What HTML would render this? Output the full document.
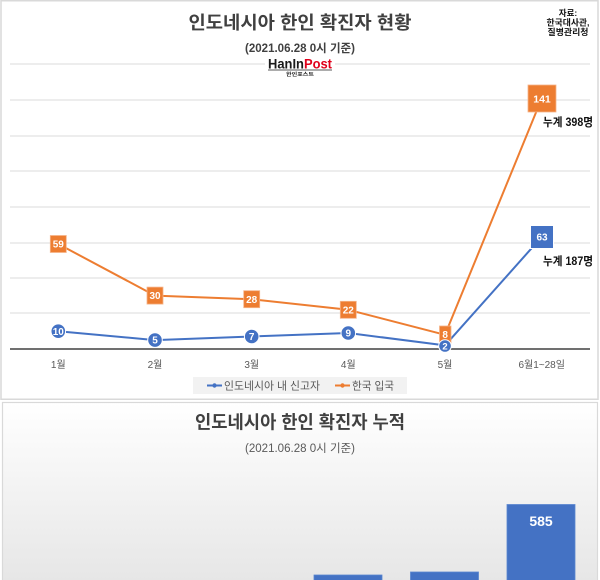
<!DOCTYPE html>
<html>
<head>
<meta charset="utf-8">
<style>
html,body{margin:0;padding:0;background:#fff;}
body{width:600px;height:580px;overflow:hidden;}
svg{display:block;}
text{font-family:"Liberation Sans","Noto Sans CJK KR",sans-serif;}
</style>
</head>
<body>
<svg width="600" height="580" viewBox="0 0 600 580" xmlns="http://www.w3.org/2000/svg">
  <defs>
    <linearGradient id="bg2" x1="0" y1="0" x2="0" y2="1">
      <stop offset="0" stop-color="#ffffff"/>
      <stop offset="1" stop-color="#e6e6e6"/>
    </linearGradient>
  </defs>
  <rect x="0" y="0" width="600" height="580" fill="#ffffff"/>

  <!-- Top frame -->
  <rect x="1" y="0.75" width="597" height="398.5" fill="#ffffff" stroke="#d9d9d9" stroke-width="1.5"/>

  <!-- gridlines -->
  <g stroke="#e2e2e2" stroke-width="1.2">
    <line x1="10" y1="64" x2="590" y2="64"/>
    <line x1="10" y1="100" x2="590" y2="100"/>
    <line x1="10" y1="136" x2="590" y2="136"/>
    <line x1="10" y1="171" x2="590" y2="171"/>
    <line x1="10" y1="207" x2="590" y2="207"/>
    <line x1="10" y1="243" x2="590" y2="243"/>
    <line x1="10" y1="278" x2="590" y2="278"/>
    <line x1="10" y1="313" x2="590" y2="313"/>
  </g>
  <line x1="10" y1="349" x2="590" y2="349" stroke="#404040" stroke-width="1.5"/>

  <!-- Title -->
  <text x="300" y="29" text-anchor="middle" font-size="18" font-weight="bold" fill="#404040" textLength="223" lengthAdjust="spacingAndGlyphs">인도네시아 한인 확진자 현황</text>
  <text x="300" y="52" text-anchor="middle" font-size="11.5" font-weight="bold" fill="#404040" textLength="110" lengthAdjust="spacingAndGlyphs">(2021.06.28 0시 기준)</text>

  <!-- Logo -->
  <rect x="265" y="56" width="70" height="21" fill="#ffffff"/>
  <text x="268" y="68.5" font-size="13.5" font-weight="bold" fill="#1a1a1a" textLength="64" lengthAdjust="spacingAndGlyphs">HanIn<tspan fill="#e0001b">Post</tspan></text>
  <line x1="268" y1="70" x2="332" y2="70" stroke="#222" stroke-width="0.8"/>
  <text x="300" y="76" text-anchor="middle" font-size="5" font-weight="bold" fill="#222" textLength="28" lengthAdjust="spacingAndGlyphs">한인포스트</text>

  <!-- Source -->
  <text x="568" y="16" text-anchor="middle" font-size="8.5" font-weight="bold" fill="#111">자료:</text>
  <text x="568" y="25.5" text-anchor="middle" font-size="8.5" font-weight="bold" fill="#111" textLength="43" lengthAdjust="spacingAndGlyphs">한국대사관,</text>
  <text x="568" y="35" text-anchor="middle" font-size="8.5" font-weight="bold" fill="#111" textLength="41" lengthAdjust="spacingAndGlyphs">질병관리청</text>

  <!-- Lines -->
  <polyline fill="none" stroke="#ED7D31" stroke-width="2" stroke-linejoin="round"
    points="58.3,244 155,295.6 251.7,299.2 348.3,309.8 445,334.8 541.7,98.5"/>
  <polyline fill="none" stroke="#4472C4" stroke-width="2" stroke-linejoin="round"
    points="58.3,331.2 155,340.1 251.7,336.5 348.3,333 445,345.4 541.7,236.9"/>

  <!-- Orange labels -->
  <g fill="#ED7D31" stroke="#f6b48a" stroke-width="0.8">
    <rect x="50.3" y="235.5" width="16" height="17"/>
    <rect x="147" y="287.1" width="16" height="17"/>
    <rect x="243.7" y="290.7" width="16" height="17"/>
    <rect x="340.3" y="301.3" width="16" height="17"/>
    <rect x="439.5" y="326" width="11.5" height="17"/>
    <rect x="528" y="85" width="28" height="27"/>
  </g>
  <g fill="#ffffff" font-size="10" font-weight="bold" text-anchor="middle">
    <text x="58.3" y="247.6">59</text>
    <text x="155" y="299.2">30</text>
    <text x="251.7" y="302.8">28</text>
    <text x="348.3" y="313.4">22</text>
    <text x="445.2" y="338.1">8</text>
    <text x="542" y="102.3" font-size="10.5">141</text>
  </g>

  <!-- Blue labels -->
  <g fill="#4472C4" stroke="#ffffff" stroke-width="1">
    <circle cx="58.3" cy="331.2" r="7.3"/>
    <circle cx="155" cy="340.1" r="7.3"/>
    <circle cx="251.7" cy="336.5" r="7.3"/>
    <circle cx="348.3" cy="333" r="7.3"/>
    <circle cx="445" cy="346" r="6.3"/>
    <rect x="530.5" y="225.5" width="23" height="23"/>
  </g>
  <g fill="#ffffff" font-size="10" font-weight="bold" text-anchor="middle">
    <text x="58.3" y="334.8">10</text>
    <text x="155" y="343.7">5</text>
    <text x="251.7" y="340.1">7</text>
    <text x="348.3" y="336.6">9</text>
    <text x="445" y="349.5" font-size="9.5">2</text>
    <text x="542" y="240.6">63</text>
  </g>

  <!-- Cumulative annotations -->
  <text x="543" y="126" font-size="11.5" font-weight="bold" fill="#111" textLength="50" lengthAdjust="spacingAndGlyphs">누계 398명</text>
  <text x="543" y="265" font-size="11.5" font-weight="bold" fill="#111" textLength="50" lengthAdjust="spacingAndGlyphs">누계 187명</text>

  <!-- Axis labels -->
  <g font-size="10" fill="#595959" text-anchor="middle">
    <text x="58.3" y="368">1월</text>
    <text x="155" y="368">2월</text>
    <text x="251.7" y="368">3월</text>
    <text x="348.3" y="368">4월</text>
    <text x="445" y="368">5월</text>
    <text x="541.7" y="368">6월1~28일</text>
  </g>

  <!-- Legend -->
  <rect x="193" y="377" width="214" height="17" fill="#f2f2f2"/>
  <line x1="207" y1="385.5" x2="222" y2="385.5" stroke="#4472C4" stroke-width="2"/>
  <circle cx="214.5" cy="385.5" r="2.2" fill="#4472C4"/>
  <text x="224" y="389.5" font-size="11" fill="#595959" textLength="96" lengthAdjust="spacingAndGlyphs">인도네시아 내 신고자</text>
  <line x1="335" y1="385.5" x2="350" y2="385.5" stroke="#ED7D31" stroke-width="2"/>
  <circle cx="342.5" cy="385.5" r="2.2" fill="#ED7D31"/>
  <text x="352" y="389.5" font-size="11" fill="#595959" textLength="42" lengthAdjust="spacingAndGlyphs">한국 입국</text>

  <!-- Bottom frame -->
  <rect x="2.5" y="402.5" width="595" height="180" fill="url(#bg2)" stroke="#d9d9d9" stroke-width="1.2"/>
  <text x="300" y="428.5" text-anchor="middle" font-size="18" font-weight="bold" fill="#404040" textLength="210" lengthAdjust="spacingAndGlyphs">인도네시아 한인 확진자 누적</text>
  <text x="300" y="452" text-anchor="middle" font-size="11.5" fill="#595959" textLength="110" lengthAdjust="spacingAndGlyphs">(2021.06.28 0시 기준)</text>

  <!-- Bars -->
  <g fill="#4472C4" stroke="#5a86d0" stroke-width="0.8">
    <rect x="314" y="575" width="68" height="10"/>
    <rect x="410.5" y="572" width="68" height="13"/>
    <rect x="507" y="504.5" width="68" height="80"/>
  </g>
  <text x="541" y="526" text-anchor="middle" font-size="14" font-weight="bold" fill="#ffffff">585</text>
</svg>
</body>
</html>
